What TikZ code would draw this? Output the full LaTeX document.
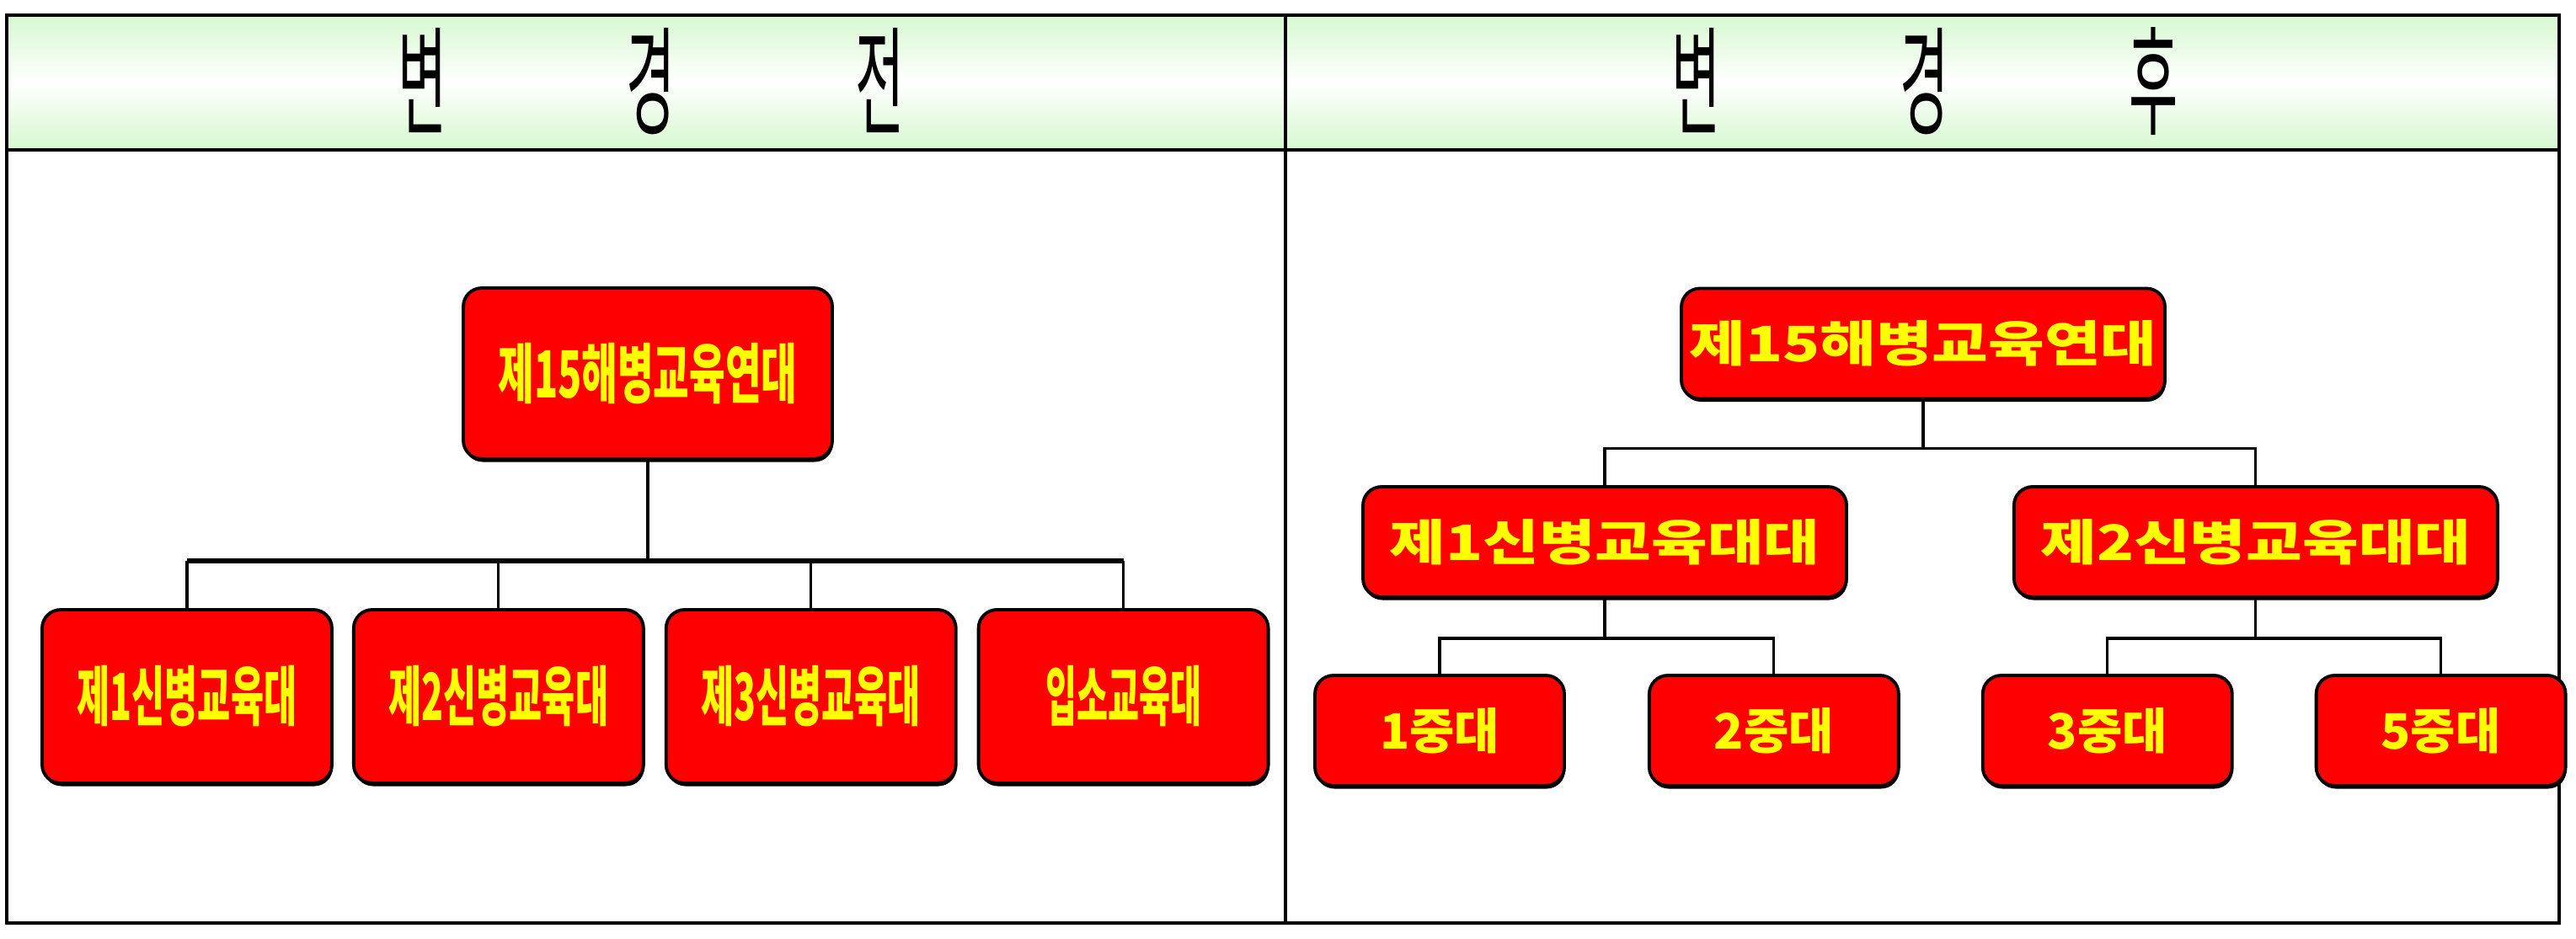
\documentclass[tikz,border=0pt]{standalone}
\usepackage{fontspec}
\usepackage{graphicx}
\newfontfamily\krfont{Noto Sans CJK KR}
\usetikzlibrary{positioning,shadows}
\definecolor{hdGreen}{HTML}{D6F8CF}
\definecolor{unitRed}{HTML}{FF0000}
\definecolor{unitYellow}{HTML}{FFFF00}
\newcommand{\squeeze}[2]{\scalebox{#1}[1]{#2}}
\newcommand{\hdword}[3]{\squeeze{0.45}{#1}\hspace{2.13cm}\squeeze{0.45}{#2}\hspace{2.13cm}\squeeze{0.45}{#3}}

\begin{document}
\begin{tikzpicture}[font=\krfont,
   unit/.style={rectangle,rounded corners=0.22cm,draw=black,line width=1.1pt,
                fill=unitRed,text=unitYellow,inner sep=0pt,align=center,
                drop shadow={shadow xshift=0.3pt,shadow yshift=-1pt,fill=black,opacity=1}},
   oldtop/.style={unit,minimum width=4.38cm,minimum height=2.03cm,
                  font=\krfont\bfseries\fontsize{22}{24}\selectfont},
   oldunit/.style={unit,minimum width=3.44cm,minimum height=2.06cm,
                   font=\krfont\bfseries\fontsize{22}{24}\selectfont},
   newunit/.style={unit,minimum width=5.74cm,minimum height=1.31cm,
                   font=\krfont\bfseries\fontsize{16.5}{18}\selectfont},
   coy/.style={unit,minimum width=2.96cm,minimum height=1.31cm,
               font=\krfont\bfseries\fontsize{16.5}{18}\selectfont},
   hdtext/.style={inner sep=0pt,font=\krfont\fontsize{40}{44}\selectfont},
   link/.style={line width=0.9pt},
   oldbar/.style={line width=1.6pt}]
  \useasboundingbox (0,0) rectangle (30.58,-11.15);

  % header band and frame
  \fill[top color=hdGreen,bottom color=hdGreen,middle color=white]
    (0.08,-0.18) rectangle (30.38,-1.78);
  \draw[line width=0.9pt] (0.08,-0.18) rectangle (30.38,-10.96);
  \draw[line width=0.9pt] (0.08,-1.78) -- (30.38,-1.78);
  \draw[line width=0.9pt] (15.26,-0.18) -- (15.26,-10.96);
  \node[hdtext] (hL) at (7.73,-0.97) {\hdword{변}{경}{전}};
  \node[hdtext] (hR) at (22.85,-0.97) {\hdword{변}{경}{후}};

  % before
  \node[oldtop] (L0) at (7.69,-4.435) {\squeeze{0.6}{제15해병교육연대}};
  \node[oldunit] (L1) at (2.22,-8.27) {\squeeze{0.55}{제1신병교육대}};
  \node[oldunit,right=0.22cm of L1] (L2) {\squeeze{0.55}{제2신병교육대}};
  \node[oldunit,right=0.23cm of L2] (L3) {\squeeze{0.55}{제3신병교육대}};
  \node[oldunit,right=0.23cm of L3] (L4) {\squeeze{0.52}{입소교육대}};
  \path (L0.south) ++(0,-1.19) coordinate (lj);
  \draw[link] (L0) -- (lj);
  \draw[oldbar] (L1 |- lj) -- (L4 |- lj);
  \draw[link] (L1 |- lj) -- (L1);
  \draw[link] (L2 |- lj) -- (L2);
  \draw[link] (L3 |- lj) -- (L3);
  \draw[link] (L4 |- lj) -- (L4);

  % after
  \node[newunit] (R0) at (22.83,-4.08) {\squeeze{1.25}{제15해병교육연대}};
  \node[newunit] (R1) at (19.05,-6.435) {\squeeze{1.25}{제1신병교육대대}};
  \node[newunit,right=1.95cm of R1] (R2) {\squeeze{1.25}{제2신병교육대대}};
  \node[coy] (C1) at (17.09,-8.675) {1중대};
  \node[coy,right=0.97cm of C1] (C2) {2중대};
  \node[coy,right=0.96cm of C2] (C3) {3중대};
  \node[coy,right=0.96cm of C3] (C4) {5중대};
  \path (R0.south) ++(0,-0.57) coordinate (rj);
  \path (R1.south) ++(0,-0.47) coordinate (rj1);
  \path (R2.south) ++(0,-0.47) coordinate (rj2);
  \draw[link] (R0) -- (rj);
  \draw[link] (R1) -- (R1 |- rj) -- (R2 |- rj) -- (R2);
  \draw[link] (R1) -- (rj1);
  \draw[link] (C1) -- (C1 |- rj1) -- (C2 |- rj1) -- (C2);
  \draw[link] (R2) -- (rj2);
  \draw[link] (C3) -- (C3 |- rj2) -- (C4 |- rj2) -- (C4);
\end{tikzpicture}
\end{document}
